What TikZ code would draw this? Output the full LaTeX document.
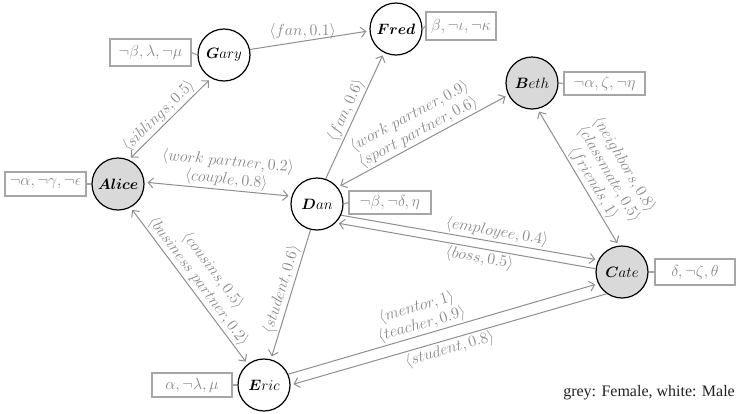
\RequirePackage{fix-cm}
\documentclass[tikz,border=0pt]{standalone}
\usepackage{amsmath,bm}
\usepackage{fontspec}
\newfontfamily\legendfont{Liberation Serif}
\usetikzlibrary{arrows.meta}

\definecolor{edgegray}{HTML}{8F8F8F}
\definecolor{labelgray}{HTML}{888888}
\definecolor{boxgray}{HTML}{A6A6A6}
\definecolor{femalegray}{HTML}{D9D9D9}
\definecolor{legendblack}{HTML}{222222}

\tikzset{
  person/.style={circle, draw=black, line width=1.2pt, minimum size=52pt,
    inner sep=0pt, font=\fontsize{15}{17}\selectfont},
  female/.style={person, fill=femalegray},
  male/.style={person, fill=white},
  attr/.style={draw=boxgray, line width=1.3pt, text=labelgray, minimum height=24pt,
    minimum width=81pt, inner sep=0pt, font=\fontsize{16}{18}\selectfont},
  tick/.style={draw=boxgray, line width=1.3pt},
  edge/.style={draw=edgegray, line width=1pt, >={Straight Barb[length=5pt,width=10pt]}},
  fwd/.style={edge, ->, shorten >=3pt},
  bwd/.style={edge, <-, shorten <=3pt},
  twoway/.style={edge, <->, shorten >=3pt, shorten <=3pt},
  lbl/.style={text=labelgray, inner sep=1.5pt, align=center,
    font=\fontsize{16}{18}\selectfont}
}

\begin{document}
\begin{tikzpicture}[x=1pt, y=-1pt]
  \useasboundingbox[fill=white] (0,0) rectangle (736,413);

  % people
  \node[male]   (gary)  at (224,55)  {$\bm{G}ary$};
  \node[male]   (fred)  at (396,29)  {$\bm{Fred}$};
  \node[female] (beth)  at (532,83)  {$\bm{B}eth$};
  \node[female] (alice) at (118,184) {$\bm{Alice}$};
  \node[male]   (dan)   at (317,204) {$\bm{D}an$};
  \node[female] (cate)  at (622,272) {$\bm{C}ate$};
  \node[male]   (eric)  at (264,385) {$\bm{E}ric$};

  % attribute boxes
  \node[attr, minimum height=27pt] (garyattr) at (150.5,52.5) {$\neg\beta, \lambda, \neg\mu$};
  \node[attr, minimum width=70pt, minimum height=28pt] (fredattr) at (461,26) {$\beta, \neg\iota, \neg\kappa$};
  \node[attr, minimum height=23pt] (bethattr) at (604.5,83.5) {$\neg\alpha, \zeta, \neg\eta$};
  \node[attr] (aliceattr) at (45.5,184) {$\neg\alpha, \neg\gamma, \neg\epsilon$};
  \node[attr, minimum width=82pt, minimum height=23pt] (danattr) at (390,202.5) {$\neg\beta, \neg\delta, \eta$};
  \node[attr, minimum width=80pt, minimum height=26pt] (cateattr) at (695,272) {$\delta, \neg\zeta, \theta$};
  \node[attr, minimum width=80pt] (ericattr) at (192,385) {$\alpha, \neg\lambda, \mu$};

  \draw[tick] (garyattr.east) -- (gary.west);
  \draw[tick] (fredattr.west) -- (fred.east);
  \draw[tick] (bethattr.west) -- (beth.east);
  \draw[tick] (aliceattr.east) -- (alice.west);
  \draw[tick] (danattr.west) -- (dan.east);
  \draw[tick] (cateattr.west) -- (cate.east);
  \draw[tick] (ericattr.east) -- (eric.west);

  % relations
  \draw[fwd] (gary.12) -- node[lbl, above, pos=0.44] (l-fan1) {$\langle fan, 0.1\rangle$} (fred.184);
  \draw[twoway] (alice.66) -- node[lbl, sloped, above, pos=0.45] (l-sib) {$\langle siblings, 0.5\rangle$} (gary.241);
  \draw[twoway] (alice.4) -- node[lbl, sloped, above, pos=0.55] (l-ad)
    {$\langle work\ partner, 0.2\rangle$\\$\langle couple, 0.8\rangle$} (dan.163);
  \draw[fwd] (dan.71) -- node[lbl, sloped, above, pos=0.51] (l-fan2) {$\langle fan, 0.6\rangle$} (fred.243);
  \draw[twoway] (dan.39) -- node[lbl, sloped, above, pos=0.5] (l-db)
    {$\langle work\ partner, 0.9\rangle$\\$\langle sport\ partner, 0.6\rangle$} (beth.207);
  \draw[twoway] (beth.-78) -- node[lbl, sloped, above, pos=0.58] (l-bc)
    {$\langle neighbors, 0.8\rangle$\\$\langle classmate, 0.5\rangle$\\$\langle friends, 1\rangle$} (cate.97);
  \draw[fwd] (dan.-25) -- node[lbl, sloped, above, pos=0.6] (l-emp) {$\langle employee, 0.4\rangle$} (cate.153);
  \draw[bwd] (dan.-45) -- node[lbl, sloped, below, pos=0.56] (l-boss) {$\langle boss, 0.5\rangle$} (cate.173);
  \draw[twoway] (alice.-62) -- node[lbl, sloped, above, pos=0.51] (l-ae)
    {$\langle cousins, 0.5\rangle$\\$\langle business\ partner, 0.2\rangle$} (eric.128);
  \draw[bwd] (eric.75) -- node[lbl, sloped, above, pos=0.515] (l-stu1) {$\langle student, 0.6\rangle$} (dan.-104);
  \draw[fwd] (eric.24) -- node[lbl, sloped, above, pos=0.44] (l-ec)
    {$\langle mentor, 1\rangle$\\$\langle teacher, 0.9\rangle$} (cate.206);
  \draw[bwd] (eric.0) -- node[lbl, sloped, below, pos=0.495] (l-stu2) {$\langle student, 0.8\rangle$} (cate.235);

  % legend
  \node[anchor=east, inner sep=0pt, text=legendblack,
    font=\legendfont\fontsize{16}{18}\selectfont] (legend) at (735,393) {grey: Female, white: Male};
\end{tikzpicture}
\end{document}
